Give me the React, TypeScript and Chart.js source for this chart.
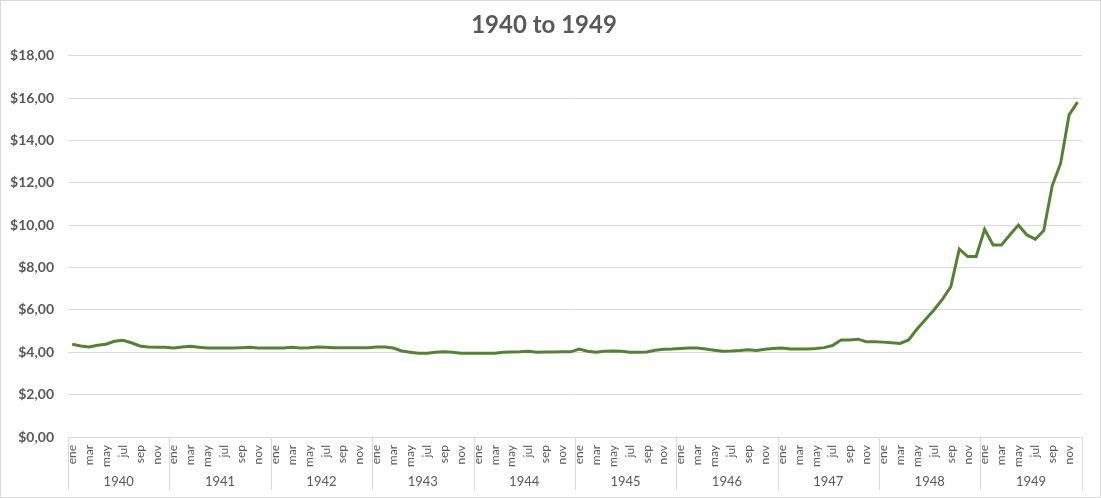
import React, { useEffect, useRef } from "react";
import { Chart, registerables } from "chart.js";

Chart.register(...registerables);

const months = ["ene", "feb", "mar", "abr", "may", "jun", "jul", "ago", "sep", "oct", "nov", "dic"];
const years = ["1940", "1941", "1942", "1943", "1944", "1945", "1946", "1947", "1948", "1949"];

const prices1940 = [4.38, 4.3, 4.25, 4.33, 4.38, 4.52, 4.57, 4.45, 4.3, 4.25, 4.24, 4.24];
const prices1941 = [4.2, 4.25, 4.28, 4.24, 4.2, 4.2, 4.2, 4.2, 4.22, 4.24, 4.2, 4.2];
const prices1942 = [4.2, 4.2, 4.24, 4.2, 4.22, 4.25, 4.24, 4.22, 4.22, 4.22, 4.22, 4.22];
const prices1943 = [4.25, 4.25, 4.2, 4.06, 4.0, 3.96, 3.95, 4.0, 4.02, 4.0, 3.96, 3.95];
const prices1944 = [3.95, 3.95, 3.96, 4.0, 4.01, 4.02, 4.05, 4.0, 4.01, 4.01, 4.02, 4.02];
const prices1945 = [4.15, 4.05, 4.0, 4.05, 4.06, 4.05, 4.0, 4.0, 4.01, 4.1, 4.14, 4.15];
const prices1946 = [4.18, 4.2, 4.2, 4.15, 4.1, 4.05, 4.06, 4.08, 4.12, 4.08, 4.14, 4.18];
const prices1947 = [4.2, 4.16, 4.15, 4.15, 4.18, 4.22, 4.32, 4.58, 4.58, 4.62, 4.5, 4.5];
const prices1948 = [4.48, 4.45, 4.42, 4.58, 5.1, 5.55, 6.0, 6.5, 7.1, 8.87, 8.52, 8.52];
const prices1949 = [9.81, 9.07, 9.07, 9.55, 10.01, 9.54, 9.34, 9.75, 11.86, 12.93, 15.21, 15.81];

const yearlyPrices = [
  prices1940, prices1941, prices1942, prices1943, prices1944,
  prices1945, prices1946, prices1947, prices1948, prices1949,
];

const TEXT = "#595959";
const GRID = "#d9d9d9";
const LINE = "#548235";
const FONT = "Lato, 'Open Sans', sans-serif";

const yearRowPlugin = {
  id: "yearRow",
  afterDraw(chart: any) {
    const { ctx, chartArea, scales } = chart;
    const x = scales.x;
    const n = months.length;
    const boundary = (k: number) => {
      if (k <= 0) return chartArea.left;
      if (k >= years.length) return chartArea.right;
      return (x.getPixelForValue(k * n - 1) + x.getPixelForValue(k * n)) / 2;
    };
    ctx.save();
    ctx.strokeStyle = GRID;
    ctx.lineWidth = 1;
    for (let k = 0; k <= years.length; k++) {
      const px = Math.round(boundary(k)) + 0.5;
      ctx.beginPath();
      ctx.moveTo(px, chartArea.bottom);
      ctx.lineTo(px, 489);
      ctx.stroke();
    }
    ctx.fillStyle = TEXT;
    ctx.font = `13px ${FONT}`;
    ctx.textAlign = "center";
    ctx.textBaseline = "middle";
    years.forEach((yr, k) => {
      const cx = (boundary(k) + boundary(k + 1)) / 2;
      ctx.fillText(yr, cx, 481);
    });
    ctx.restore();
  },
};

export default function App() {
  const ref = useRef<HTMLCanvasElement | null>(null);

  useEffect(() => {
    if (!ref.current) return;
    const labels: string[] = [];
    years.forEach(() => months.forEach((m) => labels.push(m)));
    const values = yearlyPrices.flat();

    const chart = new Chart(ref.current, {
      type: "line",
      data: {
        labels,
        datasets: [
          {
            data: values,
            borderColor: LINE,
            backgroundColor: LINE,
            borderWidth: 3,
            pointRadius: 0,
            tension: 0,
            fill: false,
          },
        ],
      },
      options: {
        animation: false,
        responsive: false,
        maintainAspectRatio: false,
        layout: { padding: { left: 0, right: 13, top: 0, bottom: 0 } },
        plugins: {
          legend: { display: false },
          tooltip: { enabled: false },
          title: {
            display: true,
            text: "1940 to 1949",
            color: TEXT,
            font: { family: FONT, size: 24, weight: "bold" },
            padding: { top: 10, bottom: 16 },
          },
        },
        scales: {
          x: {
            type: "category",
            offset: true,
            grid: { display: false, drawTicks: false },
            border: { display: false },
            afterFit(scale: any) {
              scale.height = 60;
            },
            ticks: {
              autoSkip: false,
              minRotation: 90,
              maxRotation: 90,
              padding: 8,
              color: TEXT,
              font: { family: FONT, size: 12 },
              callback: (_v: any, i: number) => (i % 2 === 0 ? labels[i] : ""),
            },
          },
          y: {
            min: 0,
            max: 18,
            grid: { color: GRID, drawTicks: false, lineWidth: 1 },
            border: { display: false },
            afterFit(scale: any) {
              scale.width = 67;
            },
            ticks: {
              stepSize: 2,
              padding: 14,
              color: TEXT,
              font: { family: FONT, size: 14, weight: "bold" },
              callback: (v: any) => "$" + Number(v).toFixed(2).replace(".", ","),
            },
          },
        },
      },
      plugins: [yearRowPlugin],
    });
    return () => chart.destroy();
  }, []);

  return (
    <div
      style={{
        position: "fixed",
        left: 0,
        top: 0,
        width: 1101,
        height: 498,
        boxSizing: "border-box",
        border: `1px solid ${GRID}`,
        background: "#fff",
      }}
    >
      <canvas ref={ref} width={1099} height={496} style={{ display: "block" }} />
    </div>
  );
}
